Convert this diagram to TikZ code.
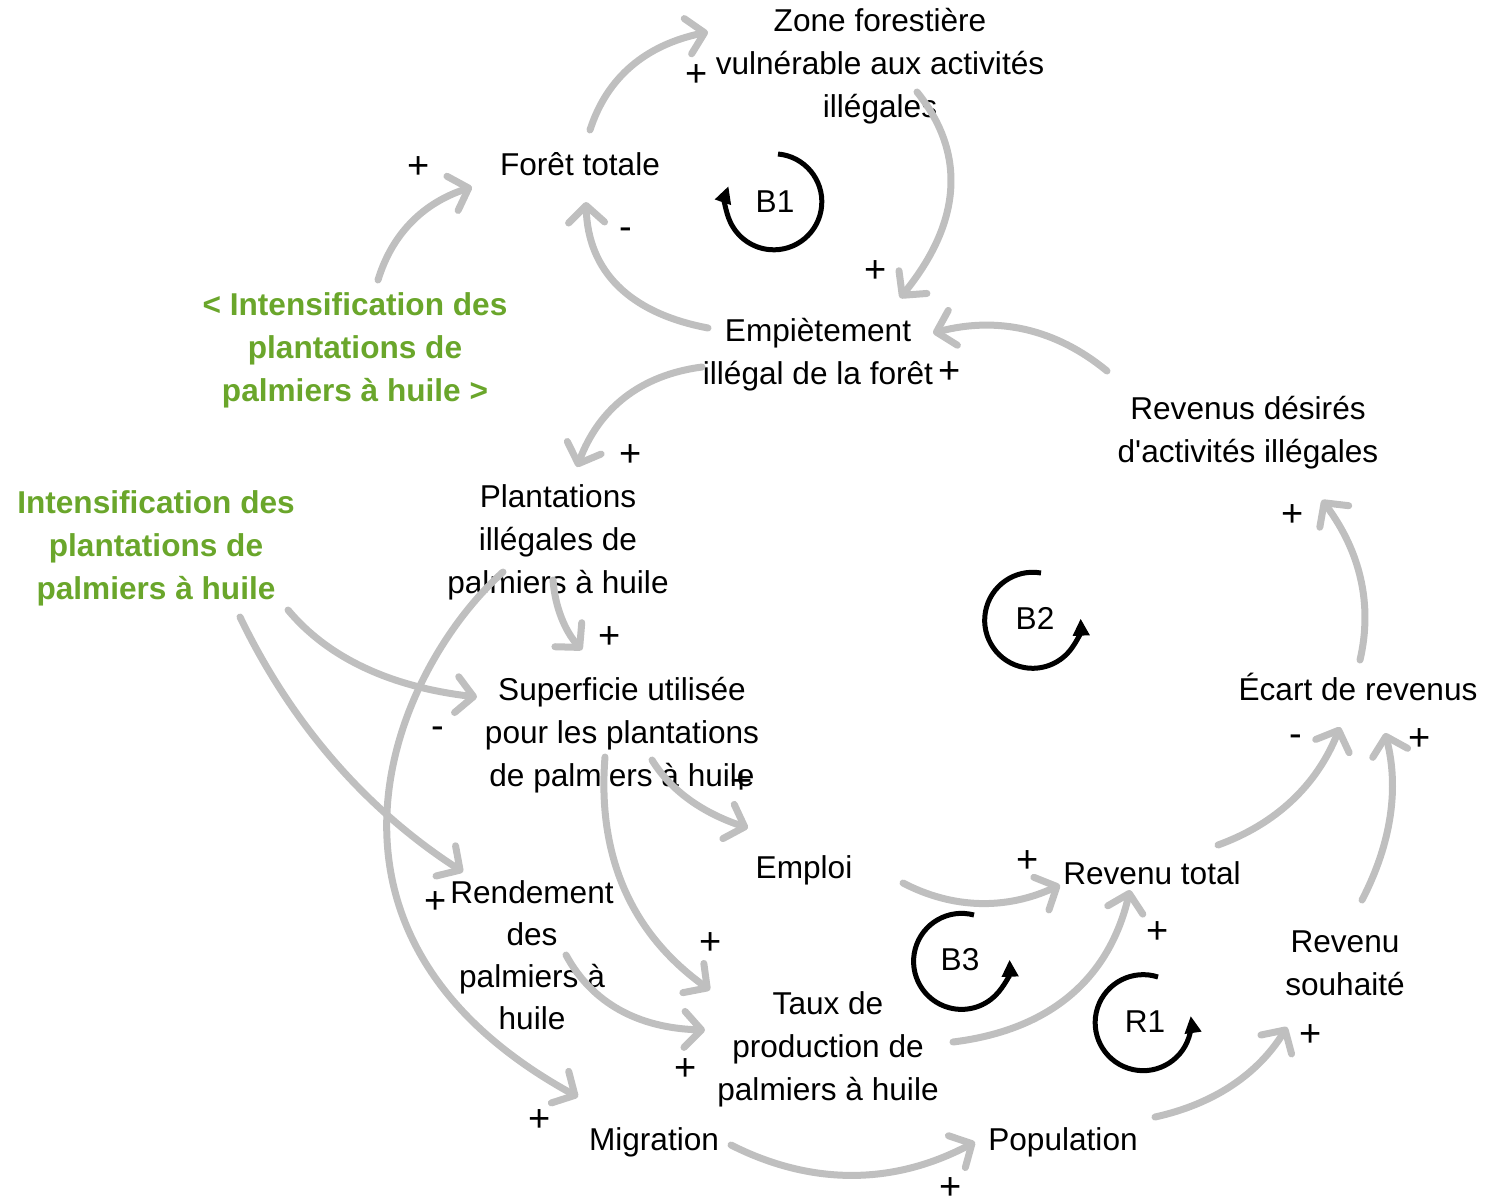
\documentclass[tikz,border=0pt]{standalone}
\usepackage{fontspec}
\setmainfont{Liberation Sans}[Ligatures=TeXOff]
\usetikzlibrary{arrows.meta,calc}
\definecolor{linkgray}{RGB}{191,191,191}
\definecolor{policygreen}{RGB}{106,166,43}
\newcommand{\cldfont}{\fontsize{31.6}{43}\selectfont}

\begin{document}
\begin{tikzpicture}[x=1pt, y=-1pt,
	var/.style = {align=center, inner sep=0pt, font=\cldfont},
	policy/.style = {var, font=\cldfont\bfseries, text=policygreen},
	sign/.style = {inner sep=0pt, font=\fontsize{38}{43}\selectfont},
	link/.style = {draw=linkgray, line width=7pt, line cap=round,
		-{Straight Barb[round, length=17pt, width=36pt]}},
	loopsym/.style = {draw=black, line width=5pt, -{Triangle[length=17pt, width=16pt]}}]
	\useasboundingbox (0,0) rectangle (1506,1202);

	% variables
	\node[var] (zone) at (880,66) {Zone forestière\\vulnérable aux activités\\illégales};
	\node[var] (foret) at (580,164) {Forêt totale};
	\node[var] (emp) at (818,355) {Empiètement\\illégal de la forêt};
	\node[policy] (intA) at (355,350) {< Intensification des\\plantations de\\palmiers à huile >};
	\node[policy] (intB) at (156,548) {Intensification des\\plantations de\\palmiers à huile};
	\node[var] (plant) at (558,542) {Plantations\\illégales de\\palmiers à huile};
	\node[var] (sup) at (622,735) {Superficie utilisée\\pour les plantations\\de palmiers à huile};
	\node[var] (emploi) at (804,870) {Emploi};
	\node[var, font=\fontsize{31.6}{42}\selectfont] (rend) at (532,955) {Rendement\\des\\palmiers à\\huile};
	\node[var] (taux) at (828,1049) {Taux de\\production de\\palmiers à huile};
	\node[var] (migr) at (654,1142) {Migration};
	\node[var] (pop) at (1063,1142) {Population};
	\node[var] (revtot) at (1152,873) {Revenu total};
	\node[var] (revsouh) at (1345,963) {Revenu\\souhaité};
	\node[var] (ecart) at (1358,687) {Écart de revenus};
	\node[var] (revdes) at (1248,433) {Revenus désirés\\d'activités illégales};

	% links
	\draw[link] ($(intA)+(23,-70)$) .. controls +(14,-46) and +(-49,16) .. ($(foret)+(-108,23)$);
	\draw[link] ($(foret)+(10,-34)$) .. controls +(17,-53) and +(-62,13) .. ($(zone)+(-172,-34)$);
	\draw[link] ($(zone)+(37,26)$) .. controls +(50,62) and +(61,-75) .. ($(emp)+(82,-57)$);
	\draw[link] ($(emp)+(-110,-27)$) .. controls +(-79,-15) and +(2,69) .. ($(foret)+(6,38)$);
	\draw[link] ($(revdes)+(-141,-62)$) .. controls +(-51,-42) and +(65,-17) .. ($(emp)+(115,-22)$);
	\draw[link] ($(emp)+(-116,12)$) .. controls +(-61,8) and +(22,-59) .. ($(plant)+(19,-75)$);
	\draw[link] ($(plant)+(-5,38)$) .. controls +(2,27) and +(-17,-19) .. ($(sup)+(-40,-85)$);
	\draw[link] ($(intB)+(132,62)$) .. controls +(40,48) and +(-86,-10) .. ($(sup)+(-145,-38)$);
	\draw[link] ($(intB)+(84,69)$) .. controls +(52,108) and +(-96,-62) .. ($(rend)+(-69,-83)$);
	\draw[link] ($(plant)+(-55,30)$) .. controls +(-110,99) and +(-297,-163) .. ($(migr)+(-76,-45)$);
	\draw[link] ($(sup)+(-17,22)$) .. controls +(-8,100) and +(-78,-56) .. ($(taux)+(-118,-59)$);
	\draw[link] ($(sup)+(30,25)$) .. controls +(19,31) and +(-45,-15) .. ($(emploi)+(-56,-42)$);
	\draw[link] ($(rend)+(34,0)$) .. controls +(26,48) and +(-67,-2) .. ($(taux)+(-123,-19)$);
	\draw[link] ($(emploi)+(99,13)$) .. controls +(50,26) and +(-54,25) .. ($(revtot)+(-92,12)$);
	\draw[link] ($(taux)+(125,-7)$) .. controls +(97,-12) and +(-21,89) .. ($(revtot)+(-22,17)$);
	\draw[link] ($(migr)+(77,3)$) .. controls +(81,41) and +(-81,43) .. ($(pop)+(-88,0)$);
	\draw[link] ($(pop)+(92,-25)$) .. controls +(59,-13) and +(-29,47) .. ($(revsouh)+(-58,64)$);
	\draw[link] ($(revtot)+(66,-28)$) .. controls +(58,-21) and +(-23,58) .. ($(ecart)+(-18,40)$);
	\draw[link] ($(revsouh)+(17,-63)$) .. controls +(30,-58) and +(14,54) .. ($(ecart)+(27,46)$);
	\draw[link] ($(ecart)+(2,-27)$) .. controls +(13,-56) and +(38,51) .. ($(revdes)+(74,67)$);

	% polarities
	\node[sign] (s1) at (419,168) {+};
	\node[sign] (s2) at (697,76) {+};
	\node[sign] (s3) at (876,272) {+};
	\node[sign] (s4) at (626,234) {-};
	\node[sign] (s5) at (950,373) {+};
	\node[sign] (s6) at (631,456) {+};
	\node[sign] (s7) at (610,638) {+};
	\node[sign] (s8) at (438,733) {-};
	\node[sign] (s9) at (436,903) {+};
	\node[sign] (s10) at (540,1121) {+};
	\node[sign] (s11) at (711,944) {+};
	\node[sign] (s12) at (742,783) {+};
	\node[sign] (s13) at (686,1070) {+};
	\node[sign] (s14) at (1028,862) {+};
	\node[sign] (s15) at (1158,933) {+};
	\node[sign] (s16) at (951,1189) {+};
	\node[sign] (s17) at (1311,1036) {+};
	\node[sign] (s18) at (1296,741) {-};
	\node[sign] (s19) at (1420,740) {+};
	\node[sign] (s20) at (1293,516) {+};

	% loops
	\node[var] (B1) at (775,202) {B1};
	\node[var] (B2) at (1035,618) {B2};
	\node[var] (B3) at (960,960) {B3};
	\node[var] (R1) at (1145,1022) {R1};
	\draw[loopsym] ($(B1)+(3,-48)$) arc[start angle=-85, end angle=199, radius=48];
	\draw[loopsym] ($(B2)+(6,-45)$) arc[start angle=-80, end angle=-362, radius=48];
	\draw[loopsym] ($(B3)+(14,-45)$) arc[start angle=-75, end angle=-362, radius=48];
	\draw[loopsym] ($(R1)+(13,-45)$) arc[start angle=-72, end angle=-368, radius=48];
\end{tikzpicture}
\end{document}
